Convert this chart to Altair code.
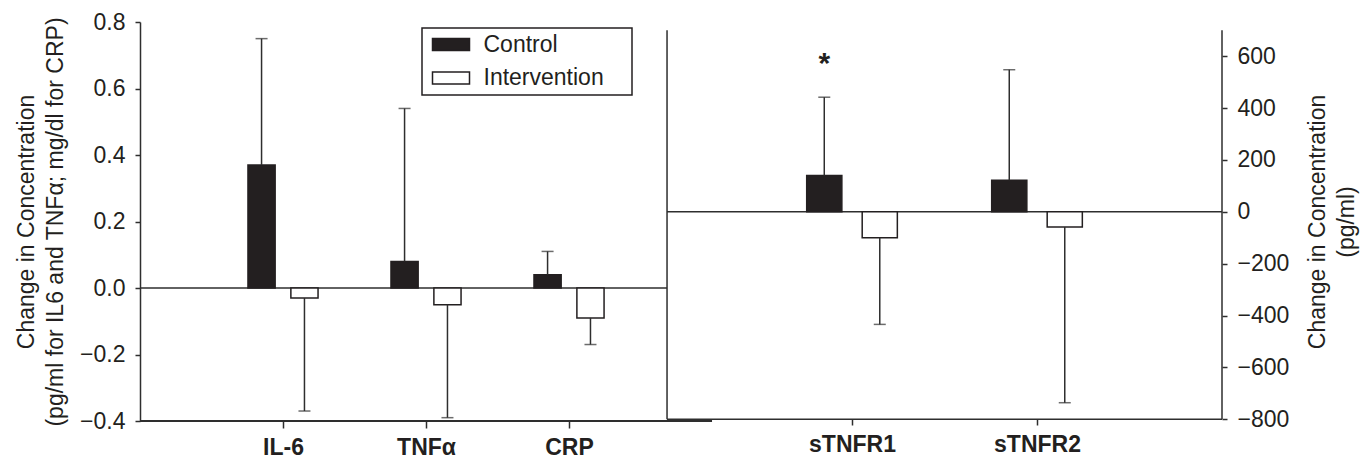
import altair as alt
import pandas as pd

# ---------------- data ----------------
groups = ["Control", "Intervention"]

left_cats = ["IL-6", "TNFα", "CRP"]
left_control = [0.37, 0.08, 0.04]
left_control_err = [0.75, 0.54, 0.11]
left_interv = [-0.03, -0.05, -0.09]
left_interv_err = [-0.37, -0.39, -0.17]

right_cats = ["sTNFR1", "sTNFR2"]
right_control = [140, 122]
right_control_err = [442, 548]
right_interv = [-100, -58]
right_interv_err = [-434, -736]

star_labels = ["*"]
star_cats = ["sTNFR1"]
star_groups = ["Control"]
star_values = [535]

left_ticks = [-0.4, -0.2, 0.0, 0.2, 0.4, 0.6, 0.8]
right_ticks = [-800, -600, -400, -200, 0, 200, 400, 600]

# ---------------- layout / style ----------------
INK = "#231f20"
LINE = "#2e2e2e"
FONT = "Liberation Sans"
FS = 23
PLOT_W, PLOT_H = 1082, 399
LEFT_X = [0, 7.566]           # left panel spans 0..4
RIGHT_X = [-2.849, 3]         # right panel spans 0..3
LEFT_Y = [-0.4, 0.8]
RIGHT_Y = [-806.5, 732]
LEFT_SPAN = [0, len(left_cats) + 1]
RIGHT_SPAN = [0, len(right_cats) + 1]
RIGHT_TOP = 700
BAR_HALF = 0.095
GROUP_OFF = {"Control": -0.15, "Intervention": 0.15}


def build(cats, c, ce, i, ie):
    rows = []
    for k, cat in enumerate(cats):
        rows.append(dict(cat=cat, idx=k + 1, group="Control", mean=c[k], err=ce[k]))
        rows.append(dict(cat=cat, idx=k + 1, group="Intervention", mean=i[k], err=ie[k]))
    df = pd.DataFrame(rows)
    df["xc"] = df["idx"] + df["group"].map(GROUP_OFF)
    df["x0"] = df["xc"] - BAR_HALF
    df["x1"] = df["xc"] + BAR_HALF
    return df


left_df = build(left_cats, left_control, left_control_err, left_interv, left_interv_err)
right_df = build(right_cats, right_control, right_control_err, right_interv, right_interv_err)

star_df = pd.DataFrame(dict(label=star_labels, cat=star_cats, group=star_groups, v=star_values))
star_df["xc"] = star_df["cat"].map({c: k + 1 for k, c in enumerate(right_cats)}) + star_df["group"].map(GROUP_OFF)


def label_expr(cats):
    arr = ",".join("'" + c + "'" for c in [""] + cats)
    return "[" + arr + "][datum.value]"


minus_expr = "replace(format(datum.value, '{}'), '-', '\u2212')"

# invisible right-side legend title only widens the legend frame like the original box
color = alt.Color("group:N", scale=alt.Scale(domain=groups, range=[INK, "#ffffff"]),
                  legend=alt.Legend(title="iiii", titleOrient="right", titleOpacity=0,
                                    titleFontSize=10, titlePadding=11))

# ---------- left panel ----------
lxs = alt.Scale(domain=LEFT_X, nice=False, zero=False)
lys = alt.Scale(domain=LEFT_Y, nice=False, zero=False)
lx_axis = alt.Axis(title=None, values=[1, 2, 3], labelExpr=label_expr(left_cats), domain=False,
                   tickSize=7, labelFontWeight="bold", labelPadding=8, orient="bottom")
ly_axis = alt.Axis(title=["Change in Concentration", "(pg/ml for IL6 and TNF\u03b1; mg/dl for CRP)"],
                   values=left_ticks, labelExpr=minus_expr.format(".1f"), tickSize=5,
                   labelPadding=10, titlePadding=12, orient="left")


def LX(f):
    return alt.X(f, type="quantitative", scale=lxs, axis=lx_axis)


def LY(f):
    return alt.Y(f, type="quantitative", scale=lys, axis=ly_axis)


left_frame = pd.DataFrame(dict(a=[LEFT_SPAN[0]], b=[LEFT_SPAN[1]], zero=[0.0], bottom=[LEFT_Y[0]]))

l_zero = alt.Chart(left_frame).mark_rule(color=LINE, strokeWidth=1.5).encode(
    x=LX("a"), x2="b", y=LY("zero"))
l_bottom = alt.Chart(left_frame).mark_rule(color=LINE, strokeWidth=2).encode(
    x=LX("a"), x2="b", y=LY("bottom"))
l_bars = alt.Chart(left_df).mark_bar(stroke=INK, strokeWidth=1.5).encode(
    x=LX("x0"), x2="x1", y=LY("mean"), y2=alt.datum(0), color=color)
l_err = alt.Chart(left_df).mark_rule(color=LINE, strokeWidth=1.5).encode(
    x=LX("xc"), y=LY("mean"), y2="err")
l_cap = alt.Chart(left_df).mark_tick(color=LINE, orient="horizontal", size=12, thickness=1.5).encode(
    x=LX("xc"), y=LY("err"))

left = alt.layer(l_zero, l_bars, l_err, l_cap, l_bottom)

# ---------- right panel ----------
rxs = alt.Scale(domain=RIGHT_X, nice=False, zero=False)
rys = alt.Scale(domain=RIGHT_Y, nice=False, zero=False)
rx_axis = alt.Axis(title=None, values=[1, 2], labelExpr=label_expr(right_cats), domain=False,
                   tickSize=6, labelFontWeight="bold", labelPadding=8, orient="bottom", offset=-2)
ry_axis = alt.Axis(title=["Change in Concentration", "(pg/ml)"], values=right_ticks,
                   labelExpr=minus_expr.format("d"), tickSize=5, labelPadding=10,
                   titlePadding=12, orient="right", domain=False, titleAngle=270)


def RX(f):
    return alt.X(f, type="quantitative", scale=rxs, axis=rx_axis)


def RY(f):
    return alt.Y(f, type="quantitative", scale=rys, axis=ry_axis)


right_frame = pd.DataFrame(dict(a=[RIGHT_SPAN[0]], b=[RIGHT_SPAN[1]], zero=[0],
                                bottom=[right_ticks[0]], top=[RIGHT_TOP]))

r_bg = alt.Chart(right_frame).mark_rect(fill="white").encode(
    x=RX("a"), x2="b", y=RY("bottom"), y2="top")
r_zero = alt.Chart(right_frame).mark_rule(color=LINE, strokeWidth=1.5).encode(
    x=RX("a"), x2="b", y=RY("zero"))
r_bottom = alt.Chart(right_frame).mark_rule(color=LINE, strokeWidth=1.5).encode(
    x=RX("a"), x2="b", y=RY("bottom"))
r_left = alt.Chart(right_frame).mark_rule(color=LINE, strokeWidth=1.5).encode(
    x=RX("a"), y=RY("bottom"), y2="top")
r_right = alt.Chart(right_frame).mark_rule(color=LINE, strokeWidth=1.5).encode(
    x=RX("b"), y=RY("bottom"), y2="top")
r_bars = alt.Chart(right_df).mark_bar(stroke=INK, strokeWidth=1.5).encode(
    x=RX("x0"), x2="x1", y=RY("mean"), y2=alt.datum(0), color=color)
r_err = alt.Chart(right_df).mark_rule(color=LINE, strokeWidth=1.5).encode(
    x=RX("xc"), y=RY("mean"), y2="err")
r_cap = alt.Chart(right_df).mark_tick(color=LINE, orient="horizontal", size=12, thickness=1.5).encode(
    x=RX("xc"), y=RY("err"))
r_star = alt.Chart(star_df).mark_text(font=FONT, fontSize=30, fontWeight="bold", color=INK,
                                      baseline="alphabetic", align="center").encode(
    x=RX("xc"), y=RY("v"), text="label:N")

right = alt.layer(r_bg, r_zero, r_left, r_right, r_bottom, r_bars, r_err, r_cap, r_star)

chart = alt.layer(left, right).resolve_scale(x="independent", y="independent").properties(
    width=PLOT_W, height=PLOT_H,
    autosize=alt.AutoSizeParams(type="none"),
    padding={"left": 132, "top": 14, "right": 141, "bottom": 37},
).configure(font=FONT).configure_view(stroke=None).configure_axis(
    grid=False, labelFont=FONT, labelFontSize=FS, labelColor=INK, tickColor=LINE, tickWidth=1.5,
    domainColor=LINE, domainWidth=1.5, titleFont=FONT, titleFontSize=FS, titleFontWeight="normal",
    titleColor=INK, titleLineHeight=29,
).configure_legend(
    orient="none", legendX=282, legendY=6, strokeColor=INK, strokeWidth=1.5, padding=5,
    fillColor="white", labelFont=FONT, labelFontSize=FS, labelColor=INK, labelOffset=21,
    symbolType="M-1.85,-0.6H1.85V0.6H-1.85Z", symbolSize=400, symbolOffset=12.5,
    symbolStrokeColor=INK, symbolStrokeWidth=1.5, rowPadding=9.5, cornerRadius=0,
)

chart.save("out.html", embed_options={"renderer": "svg", "actions": False})
